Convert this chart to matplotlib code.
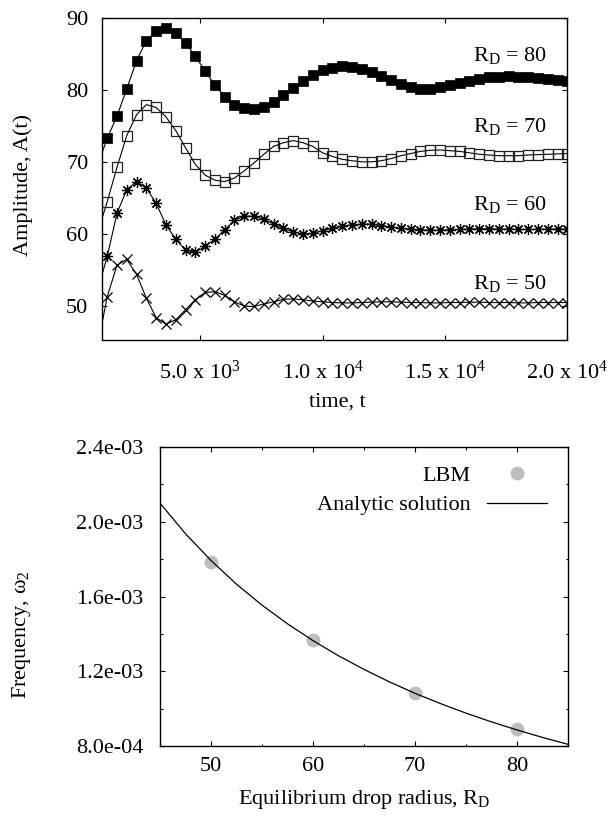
import numpy as np
import matplotlib
matplotlib.use("Agg")
import matplotlib.pyplot as plt
from matplotlib.ticker import FixedLocator, MultipleLocator, FormatStrFormatter

plt.rcParams['font.family'] = ['Liberation Serif', 'DejaVu Serif']
plt.rcParams['mathtext.fontset'] = 'custom'
plt.rcParams['mathtext.rm'] = 'Liberation Serif'
plt.rcParams['mathtext.it'] = 'Liberation Serif:italic'
plt.rcParams['mathtext.bf'] = 'Liberation Serif:bold'
plt.rcParams['mathtext.default'] = 'regular'
plt.rcParams['font.size'] = 16

# --- top panel: amplitude vs time ---
t = np.arange(1200, 20001, 400)
t_line0 = 1000

amp_50 = [51.3, 55.7, 56.5, 54.4, 51.1, 48.4, 47.5, 48.1, 49.5, 50.9,
          51.9, 52.0, 51.5, 50.6, 50.0, 49.95, 50.3, 50.6, 50.95, 51.0,
          50.9, 50.7, 50.6, 50.5, 50.45, 50.45, 50.5, 50.55, 50.6, 50.6,
          50.55, 50.5, 50.5, 50.45, 50.45, 50.5, 50.5, 50.55, 50.55, 50.5,
          50.5, 50.5, 50.45, 50.45, 50.5, 50.5, 50.5, 50.5]
amp_60 = [56.9, 62.9, 66.2, 67.3, 66.4, 64.3, 61.3, 59.3, 57.8, 57.5,
          58.3, 59.3, 60.6, 61.9, 62.5, 62.5, 62.1, 61.4, 60.8, 60.3,
          60.0, 60.1, 60.5, 60.8, 61.1, 61.3, 61.4, 61.4, 61.2, 61.0,
          60.8, 60.7, 60.6, 60.55, 60.55, 60.6, 60.65, 60.7, 60.75, 60.75,
          60.7, 60.7, 60.65, 60.65, 60.65, 60.7, 60.7, 60.7]
amp_70 = [64.5, 69.3, 73.7, 76.6, 78.0, 77.6, 76.3, 74.4, 72.0, 69.7,
          68.2, 67.5, 67.3, 67.8, 68.8, 69.9, 71.1, 72.2, 72.7, 73.0,
          72.7, 72.2, 71.3, 70.8, 70.4, 70.2, 70.05, 70.05, 70.2, 70.5,
          70.9, 71.2, 71.5, 71.65, 71.7, 71.6, 71.5, 71.3, 71.1, 71.0,
          70.9, 70.9, 70.9, 71.0, 71.05, 71.1, 71.15, 71.2]
amp_80 = [73.3, 76.4, 80.2, 84.1, 86.9, 88.2, 88.6, 88.0, 86.6, 84.7,
          82.7, 80.7, 79.1, 78.0, 77.5, 77.4, 77.7, 78.4, 79.4, 80.3,
          81.3, 82.1, 82.8, 83.1, 83.3, 83.2, 82.9, 82.5, 82.0, 81.4,
          80.9, 80.5, 80.2, 80.2, 80.4, 80.7, 81.0, 81.3, 81.6, 81.8,
          81.9, 81.95, 81.9, 81.9, 81.75, 81.6, 81.45, 81.3]
# fitted curve value at the left edge (t = 1000)
line_start = [47.8, 54.5, 62.3, 71.4]

radii_labels = ['50', '60', '70', '80']
label_base = [52.45, 63.3, 74.25, 84.1]

xtick_vals = [5000, 10000, 15000, 20000]
xtick_labels = [r'5.0 x 10$^{3}$', r'1.0 x 10$^{4}$',
                r'1.5 x 10$^{4}$', r'2.0 x 10$^{4}$']

# --- bottom panel: frequency vs radius ---
r_lbm = [50, 60, 70, 80]
w_lbm = [1.785e-3, 1.368e-3, 1.085e-3, 0.889e-3]

r_ana = [45, 47.5, 50, 52.5, 55, 57.5, 60, 62.5, 65, 67.5, 70,
         72.5, 75, 77.5, 80, 82.5, 85]
w_ana = [2.100e-3, 1.936e-3, 1.793e-3, 1.666e-3, 1.554e-3, 1.454e-3,
         1.364e-3, 1.283e-3, 1.210e-3, 1.143e-3, 1.082e-3, 1.027e-3,
         0.976e-3, 0.929e-3, 0.886e-3, 0.846e-3, 0.809e-3]


fig = plt.figure(figsize=(6.13, 8.18), dpi=100)
ax1 = fig.add_axes([0.1669, 0.5844, 0.7586, 0.3933])
ax2 = fig.add_axes([0.2610, 0.0880, 0.6656, 0.3655])

styles = [
    dict(marker='x', ms=7, mfc='none', mec='black', mew=0.9),
    dict(marker=(8, 2, 0), ms=8, mfc='none', mec='black', mew=0.9),
    dict(marker='s', ms=6.5, mfc='none', mec='#222222', mew=0.9),
    dict(marker='s', ms=6.5, mfc='black', mec='black', mew=0.5),
]
series = [amp_50, amp_60, amp_70, amp_80]

for amp, st in zip(series, styles):
    ax1.plot(t, amp, ls='none', **st)
for amp, y0 in zip(series, line_start):
    ax1.plot(np.r_[t_line0, t], np.r_[y0, amp], color='black', lw=0.8)

for lab, yb in zip(radii_labels, label_base):
    ax1.text(19160, yb, r'R$_D$ = ' + lab, ha='right',
             va='baseline', fontsize=16)

ax1.set_xlim(1000, 20000)
ax1.set_ylim(45.3, 90)
ax1.xaxis.set_major_locator(FixedLocator(xtick_vals))
ax1.set_xticklabels(xtick_labels)
ax1.yaxis.set_major_locator(MultipleLocator(10))
ax1.set_xlabel('time, t')
ax1.set_ylabel('Amplitude, A(t)')
ax1.xaxis.set_label_coords(0.505, -0.165)
ax1.yaxis.set_label_coords(-0.148, 0.482)
ax1.tick_params(which='major', direction='in', length=3.6, width=0.8,
                top=True, right=True)
ax1.tick_params(axis='y', pad=10)
ax1.tick_params(axis='x', pad=15)

# bottom
ax2.plot(r_lbm, w_lbm, ls='none', marker='o', ms=10, color='#bdbdbd',
         mec='none', label='LBM')
ax2.plot(r_ana, w_ana, color='black', lw=0.9, label='Analytic solution')
ax2.set_xlim(45, 85)
ax2.set_ylim(8.0e-4, 2.4e-3)
ax2.xaxis.set_major_locator(MultipleLocator(10))
ax2.xaxis.set_minor_locator(MultipleLocator(5))
ax2.yaxis.set_major_locator(MultipleLocator(4e-4))
ax2.yaxis.set_minor_locator(MultipleLocator(2e-4))
ax2.yaxis.set_major_formatter(FormatStrFormatter('%.1e'))
ax2.set_xlabel(r'Equilibrium drop radius, R$_D$')
ax2.set_ylabel(r'Frequency, ω$_{2}$')
ax2.xaxis.set_label_coords(0.5, -0.142)
ax2.yaxis.set_label_coords(-0.311, 0.372)
ax2.tick_params(which='both', direction='in', top=True, right=True, width=0.8)
ax2.tick_params(which='major', length=3.6)
ax2.tick_params(which='minor', length=1.8)
ax2.tick_params(axis='y', which='both', pad=12)
ax2.tick_params(axis='x', which='both', pad=8)
ax2.legend(loc='upper right', bbox_to_anchor=(0.980, 0.983),
           markerfirst=False, frameon=False,
           handlelength=2.7, handletextpad=0.7, borderaxespad=0.3,
           borderpad=0.3, labelspacing=0.4, fontsize=16, numpoints=1)

for ax in (ax1, ax2):
    for sp in ax.spines.values():
        sp.set_linewidth(1.0)

fig.savefig('out.png', dpi=100)
